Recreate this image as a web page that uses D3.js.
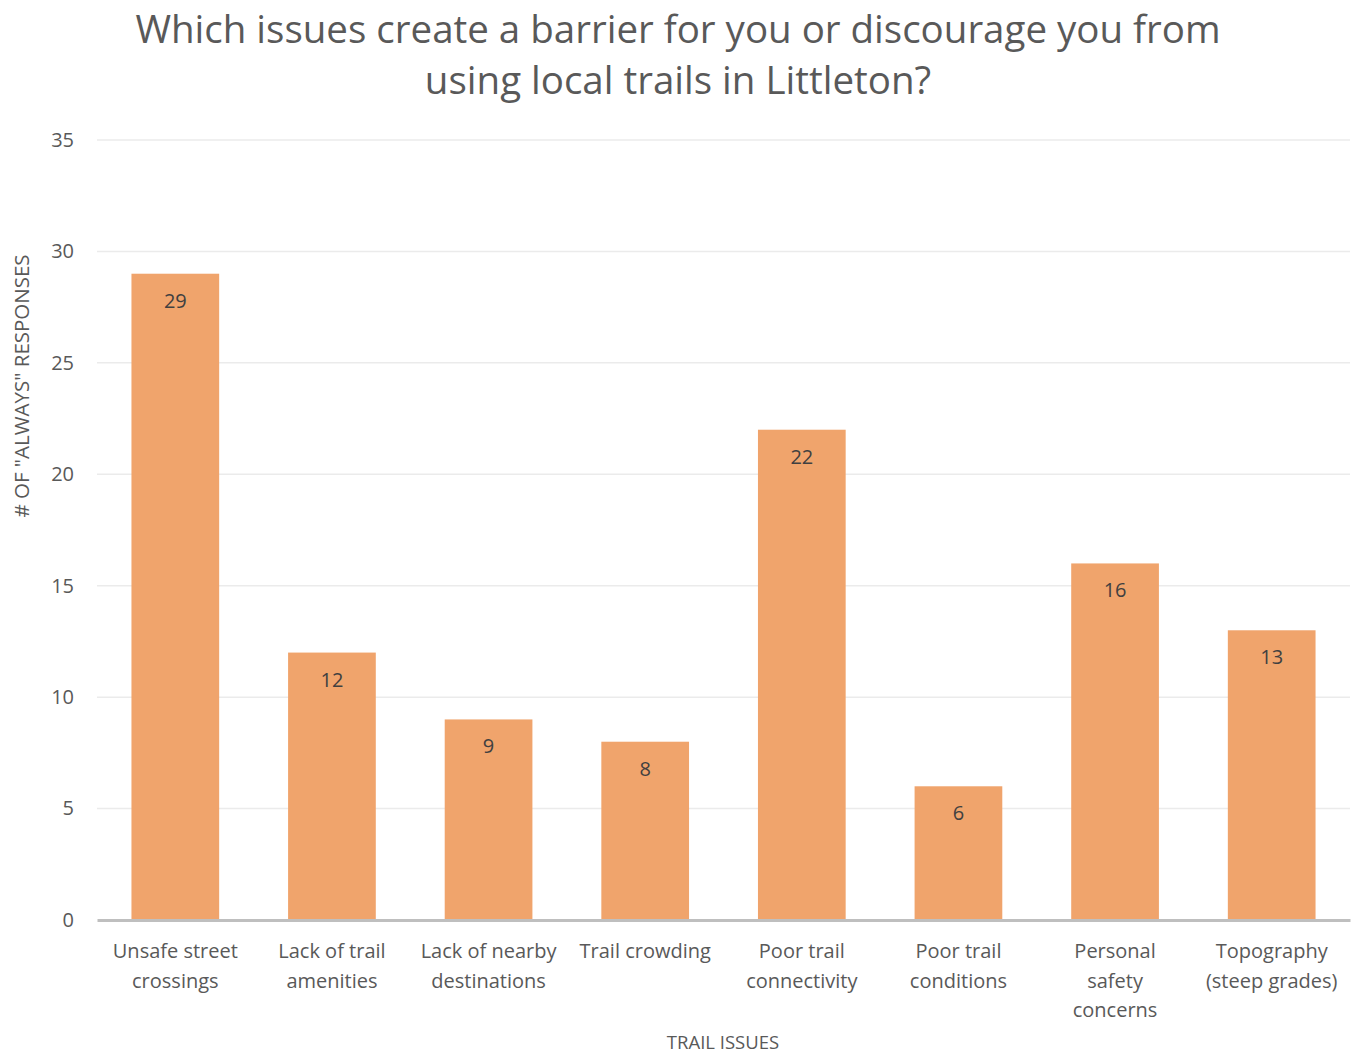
<!DOCTYPE html>
<html>
<head>
<meta charset="utf-8">
<script src="https://cdn.jsdelivr.net/npm/d3@7"></script>
<style>
  body { margin: 0; background: #fff; }
  text { font-family: "Open Sans", "Noto Sans", sans-serif; }
</style>
</head>
<body>
<div id="chart"></div>
<script>
// data
var categories = [
  ["Unsafe street", "crossings"],
  ["Lack of trail", "amenities"],
  ["Lack of nearby", "destinations"],
  ["Trail crowding"],
  ["Poor trail", "connectivity"],
  ["Poor trail", "conditions"],
  ["Personal", "safety", "concerns"],
  ["Topography", "(steep grades)"]
];
var values = [29, 12, 9, 8, 22, 6, 16, 13];
var yTicks = [0, 5, 10, 15, 20, 25, 30, 35];

var width = 1363, height = 1057;
var margin = {top: 140, right: 13, bottom: 137, left: 97};

var svg = d3.select('#chart').append('svg')
  .attr('width', width).attr('height', height);

var ids = d3.range(values.length);
var x = d3.scaleBand()
  .domain(ids)
  .range([margin.left, width - margin.right])
  .paddingInner(0.44).paddingOuter(0.22);

var y = d3.scaleLinear()
  .domain([0, 35])
  .range([height - margin.bottom, margin.top]);

// title
svg.append('text')
  .attr('x', 678).attr('y', 43)
  .attr('text-anchor', 'middle')
  .attr('font-size', 38.5).attr('fill', '#595959')
  .selectAll('tspan')
  .data(["Which issues create a barrier for you or discourage you from", "using local trails in Littleton?"])
  .enter().append('tspan')
  .attr('x', 678).attr('dy', function(d, i){ return i ? 51 : 0; })
  .text(function(d){ return d; });

// gridlines
svg.append('g').selectAll('line')
  .data(yTicks.filter(function(d){ return d > 0; }))
  .enter().append('line')
  .attr('x1', margin.left).attr('x2', width - margin.right)
  .attr('y1', function(d){ return y(d); }).attr('y2', function(d){ return y(d); })
  .attr('stroke', '#ebebeb').attr('stroke-width', 1.5);

// y axis labels
var yAxis = svg.append('g')
  .attr('transform', 'translate(' + (margin.left - 23) + ',0)')
  .call(d3.axisLeft(y).tickValues(yTicks).tickSize(0).tickPadding(0));
yAxis.select('.domain').remove();
yAxis.selectAll('text')
  .attr('font-family', '"Open Sans", sans-serif')
  .attr('font-size', 20).attr('fill', '#595959');

// bars
svg.append('g').selectAll('rect')
  .data(values)
  .enter().append('rect')
  .attr('x', function(d, i){ return x(i); })
  .attr('y', function(d){ return y(d); })
  .attr('width', x.bandwidth())
  .attr('height', function(d){ return y(0) - y(d); })
  .attr('fill', '#f0a46c');

// data labels
svg.append('g').selectAll('text')
  .data(values)
  .enter().append('text')
  .attr('x', function(d, i){ return x(i) + x.bandwidth() / 2; })
  .attr('y', function(d){ return y(d) + 34; })
  .attr('text-anchor', 'middle')
  .attr('font-size', 20).attr('fill', '#404040')
  .text(function(d){ return d; });

// x axis
var xAxis = svg.append('g')
  .attr('transform', 'translate(0,' + y(0) + ')')
  .call(d3.axisBottom(x).tickSize(0).tickFormat(''));
xAxis.select('.domain').attr('stroke', '#bfbfbf').attr('stroke-width', 3);

svg.append('g').selectAll('text')
  .data(categories)
  .enter().append('text')
  .attr('text-anchor', 'middle')
  .attr('font-size', 20).attr('fill', '#595959')
  .attr('transform', function(d, i){ return 'translate(' + (x(i) + x.bandwidth() / 2) + ',' + (y(0) + 38) + ')'; })
  .selectAll('tspan')
  .data(function(d){ return d; })
  .enter().append('tspan')
  .attr('x', 0)
  .attr('y', function(d, i){ return i * 29.5; })
  .text(function(d){ return d; });

// axis titles
svg.append('text')
  .attr('x', 723).attr('y', 1049)
  .attr('text-anchor', 'middle')
  .attr('font-size', 18.5).attr('fill', '#595959')
  .text('TRAIL ISSUES');

svg.append('text')
  .attr('transform', 'translate(29,386) rotate(-90)')
  .attr('text-anchor', 'middle')
  .attr('font-size', 20.5).attr('fill', '#595959')
  .text('# OF "ALWAYS" RESPONSES');
</script>
</body>
</html>
